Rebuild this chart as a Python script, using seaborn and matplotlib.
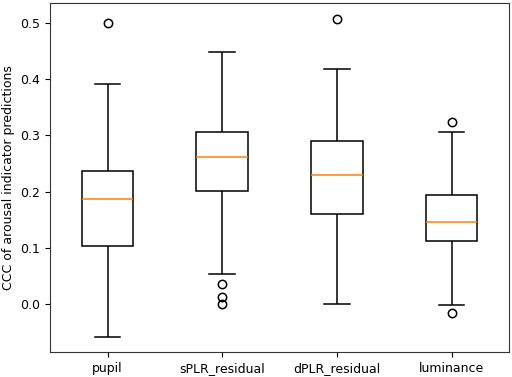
import matplotlib
matplotlib.use("Agg")
import matplotlib.pyplot as plt
import seaborn as sns
import pandas as pd

# Values (sorted samples that reproduce the box statistics:
# whiskers, quartiles, median and outliers)
categories = ["pupil", "sPLR_residual", "dPLR_residual", "luminance"]
pupil = [-0.058, 0.103, 0.103, 0.186, 0.186, 0.186, 0.236, 0.391, 0.500]
splr_residual = [0.000, 0.013, 0.036, 0.053, 0.201, 0.201, 0.201, 0.201, 0.261,
                 0.261, 0.261, 0.261, 0.305, 0.305, 0.305, 0.305, 0.449]
dplr_residual = [0.000, 0.160, 0.160, 0.229, 0.229, 0.229, 0.289, 0.418, 0.507]
luminance = [-0.016, -0.002, 0.112, 0.145, 0.145, 0.145, 0.193, 0.306, 0.323]
ylabel = "CCC of arousal indicator predictions"

series = [pupil, splr_residual, dplr_residual, luminance]
rows = []
for cat, vals in zip(categories, series):
    for v in vals:
        rows.append({"indicator": cat, "ccc": v})
df = pd.DataFrame(rows)

plt.rcParams["font.family"] = ["DejaVu Sans"]
plt.rcParams["font.size"] = 9

fig = plt.figure(figsize=(5.12, 3.77), dpi=100)
ax = fig.add_axes([0.098, 0.065, 0.896, 0.927])

sns.boxplot(
    data=df, x="indicator", y="ccc", order=categories, ax=ax,
    width=0.45, color="white", linecolor="black", linewidth=1.1,
    whis=1.5,
    medianprops=dict(color="#ff7f0e", linewidth=1.1),
    flierprops=dict(marker="o", markerfacecolor="none", markeredgecolor="black",
                    markersize=6, markeredgewidth=1.1),
)
ax.set_xlabel("")
ax.set_ylabel(ylabel, fontsize=9)
ax.tick_params(labelsize=9)
for s in ax.spines.values():
    s.set_color("#333333")

fig.savefig("out.png", dpi=100)
